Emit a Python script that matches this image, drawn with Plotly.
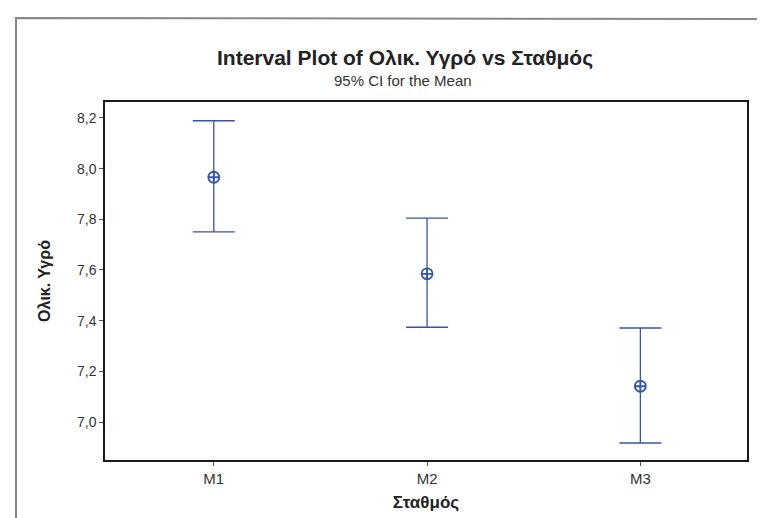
import plotly.graph_objects as go

categories = ["M1", "M2", "M3"]
means = [7.966, 7.585, 7.141]
upper = [8.189, 7.805, 7.371]
lower = [7.750, 7.374, 6.917]

err_plus = [u - m for u, m in zip(upper, means)]
err_minus = [m - l for m, l in zip(means, lower)]

blue = "rgb(55,85,165)"
font = "Liberation Sans, Arial, sans-serif"

fig = go.Figure()
fig.add_trace(go.Scatter(
    x=[0, 1, 2], y=means, mode="markers",
    marker=dict(symbol="circle-cross-open", size=11, color=blue, line=dict(width=1.8, color=blue)),
    error_y=dict(type="data", array=err_plus, arrayminus=err_minus, symmetric=False,
                 color=blue, thickness=1.3, width=21),
    showlegend=False,
))

W, H = 765, 518
L, R, T, B = 97, 26, 94, 66
pw, ph = W - L - R, H - T - B

def px_x(x):
    return (x - L) / pw

def px_y(y):
    return (H - B - y) / ph

fig.update_layout(
    width=W, height=H,
    margin=dict(l=L, r=R, t=T, b=B),
    paper_bgcolor="white", plot_bgcolor="white",
    separators=",.",
    font=dict(family=font, color="#333333", size=14),
    xaxis=dict(
        range=[-0.51, 2.5], tickmode="array", tickvals=[0, 1, 2], ticktext=categories,
        showgrid=False, zeroline=False, showline=True, mirror=True,
        linecolor="#1a1a1a", linewidth=1.5, ticks="outside", ticklen=4, tickcolor="#555",
        tickfont=dict(size=15, color="#333"),
        title=dict(text="<b>Σταθμός</b>", font=dict(size=17, color="#222"), standoff=10),
    ),
    yaxis=dict(
        range=[6.850, 8.263], tick0=7.0, dtick=0.2, tickformat=".1f",
        showgrid=False, zeroline=False, showline=True, mirror=True,
        linecolor="#1a1a1a", linewidth=1.5, ticks="outside", ticklen=4, tickcolor="#555",
        tickfont=dict(size=14, color="#333"),
        title=dict(text="<b>Ολικ. Υγρό</b>", font=dict(size=16, color="#222"), standoff=22),
    ),
    shapes=[
        dict(type="path", xref="paper", yref="paper",
             path=f"M {px_x(8)},{px_y(530)} L {px_x(8)},{px_y(10)} L {px_x(770)},{px_y(11)}",
             line=dict(color="#888888", width=2)),
    ],
    annotations=[
        dict(text="<b>Interval Plot of Ολικ. Υγρό vs Σταθμός</b>", xref="paper", yref="paper",
             x=px_x(397), y=px_y(50), showarrow=False, xanchor="center", yanchor="middle",
             font=dict(size=21, color="#222", family=font)),
        dict(text="95% CI for the Mean", xref="paper", yref="paper",
             x=px_x(395), y=px_y(73), showarrow=False, xanchor="center", yanchor="middle",
             font=dict(size=15, color="#333", family=font)),
    ],
)

fig.write_html("out.html")
